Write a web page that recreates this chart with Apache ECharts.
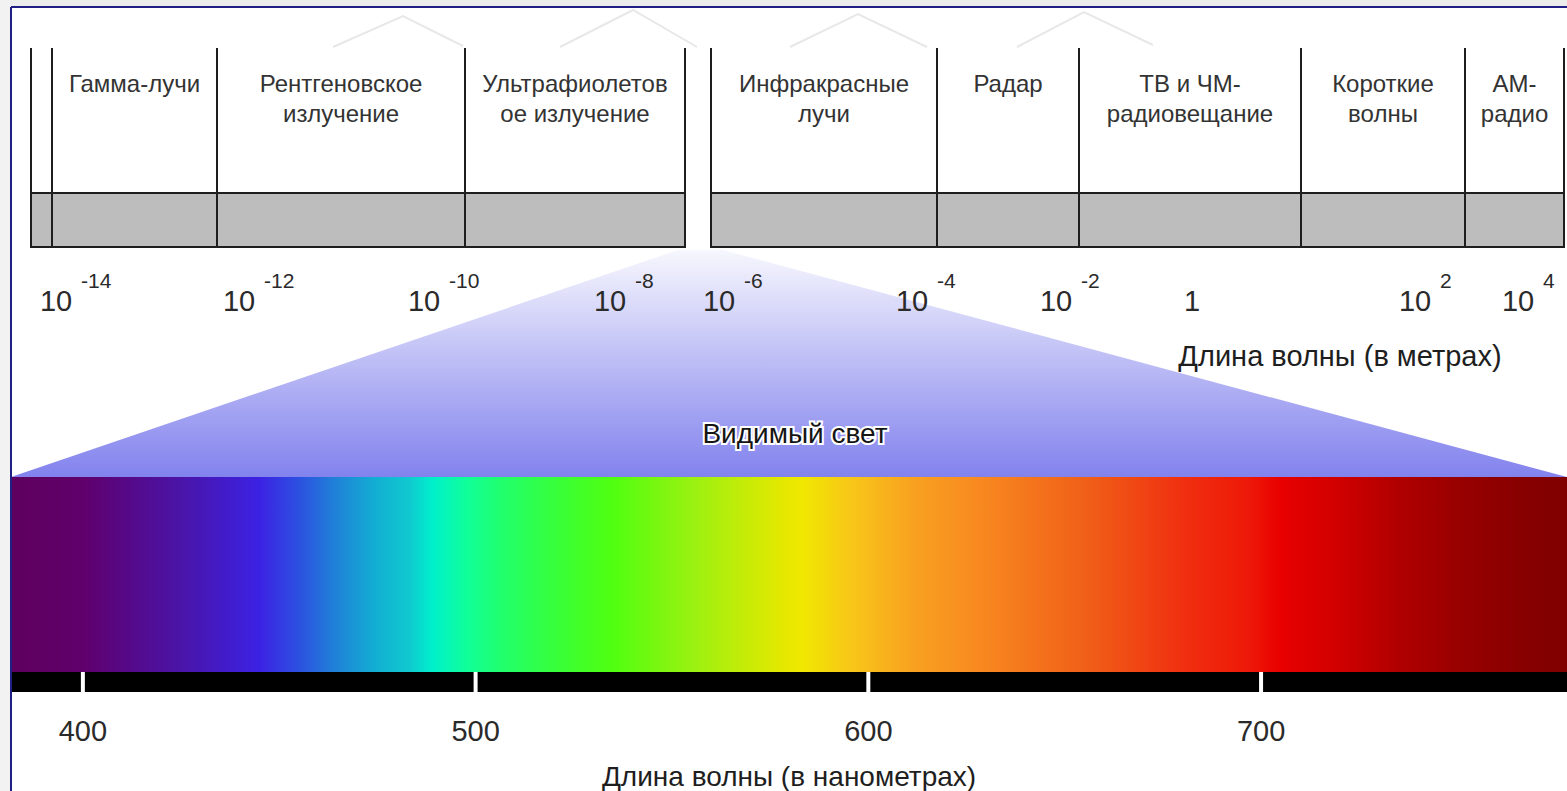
<!DOCTYPE html>
<html>
<head>
<meta charset="utf-8">
<script src="https://cdn.jsdelivr.net/npm/echarts@6/dist/echarts.min.js"></script>
<style>
  html, body { margin: 0; padding: 0; background: #fff; }
  #chart { width: 1567px; height: 791px; }
</style>
</head>
<body>
<div id="chart"></div>
<script>
// top scale: schematic position along the strip (0 = left frame edge)
const bandNames = ['', 'Гамма-лучи', 'Рентгеновское\nизлучение', 'Ультрафиолетов\nое излучение',
  'Инфракрасные\nлучи', 'Радар', 'ТВ и ЧМ-\nрадиовещание', 'Короткие\nволны', 'АМ-\nрадио'];
const bandStart = [20, 41, 206, 454, 700, 926, 1068, 1290, 1454];
const bandEnd = [41, 206, 454, 674, 926, 1068, 1290, 1454, 1553];
const decadeBase = ['10', '10', '10', '10', '10', '10', '10', '1', '10', '10'];
const decadeExp = ['-14', '-12', '-10', '-8', '-6', '-4', '-2', '', '2', '4'];
const decadePos = [45, 228, 413, 599, 708, 901, 1045, 1181, 1404, 1507];
const visibleOnScale = [667, 712];

// visible light, nanometres
const nmRange = [381.7, 777.9];
const nmTicks = [400, 500, 600, 700];
const spectrumNm = [381.7, 400, 425, 445, 455, 464, 475, 483, 489, 498, 506, 521, 535, 557,
  578, 583, 595, 612, 629, 655, 680, 697, 705, 720, 735, 751, 766, 777.9];
const spectrumColor = ['#5e005e', '#60006c', '#4a14a8', '#3c22e4', '#2c50e0', '#2080d8', '#12b0d2',
  '#10c8d0', '#00f0cc', '#10ff98', '#20ff70', '#38ff38', '#50ff10', '#a0f010',
  '#e4e800', '#f0e800', '#f8c818', '#f8a020', '#f88820', '#f06018', '#f03010', '#ee1808',
  '#e80000', '#d00000', '#b00000', '#980000', '#880000', '#800000'];

const FONT = 'Liberation Sans, Arial, sans-serif';
const greyShare = 0.271;

const chart = echarts.init(document.getElementById('chart'), null, { renderer: 'svg' });

const bandData = bandStart.map((s, i) => [s, bandEnd[i], bandNames[i]]);
const decadeData = decadePos.map((p, i) => [p, decadeBase[i], decadeExp[i]]);

function renderBand(params, api) {
  const top = api.coord([api.value(0), 1]);
  const bottom = api.coord([api.value(1), 0]);
  const greyTop = api.coord([api.value(0), greyShare])[1];
  const name = bandData[params.dataIndex][2];
  return {
    type: 'group',
    children: [
      {
        type: 'rect',
        shape: { x: top[0], y: greyTop, width: bottom[0] - top[0], height: bottom[1] - greyTop },
        style: { fill: '#bdbdbd', stroke: '#1e1e1e', lineWidth: 2 }
      },
      {
        type: 'line',
        shape: { x1: top[0], y1: top[1], x2: top[0], y2: bottom[1] },
        style: { stroke: '#1e1e1e', lineWidth: 2 }
      },
      {
        type: 'line',
        shape: { x1: bottom[0], y1: top[1], x2: bottom[0], y2: bottom[1] },
        style: { stroke: '#1e1e1e', lineWidth: 2 }
      },
      {
        type: 'text',
        x: (top[0] + bottom[0]) / 2,
        y: top[1] + 20,
        style: {
          text: name, fill: '#333', fontSize: 24, fontFamily: FONT,
          align: 'center', verticalAlign: 'top', lineHeight: 30
        }
      }
    ]
  };
}

function renderDecade(params, api) {
  const p = api.coord([api.value(0), 0]);
  const d = decadeData[params.dataIndex];
  return {
    type: 'group',
    children: [
      {
        type: 'text', x: p[0], y: p[1] + 54,
        style: { text: d[1], fill: '#2a2a2a', fontSize: 29, fontFamily: FONT, align: 'center', verticalAlign: 'middle' }
      },
      {
        type: 'text', x: p[0] + 25, y: p[1] + 33,
        style: { text: d[2], fill: '#2a2a2a', fontSize: 21, fontFamily: FONT, align: 'left', verticalAlign: 'middle' }
      }
    ]
  };
}

function renderSpectrum(params, api) {
  const a = api.coord([api.value(0), 1]);
  const b = api.coord([api.value(1), 0]);
  const span = nmRange[1] - nmRange[0];
  const stops = spectrumNm.map((nm, i) => ({ offset: (nm - nmRange[0]) / span, color: spectrumColor[i] }));
  return {
    type: 'group',
    children: [
      {
        type: 'rect',
        shape: { x: a[0], y: a[1], width: b[0] - a[0], height: b[1] - a[1] },
        style: { fill: new echarts.graphic.LinearGradient(0, 0, 1, 0, stops) }
      },
      {
        // black scale bar under the spectrum
        type: 'rect',
        shape: { x: a[0], y: b[1], width: b[0] - a[0], height: 20 },
        style: { fill: '#000' }
      }
    ]
  };
}

function renderTick(params, api) {
  const p = api.coord([api.value(0), 0]);
  return {
    type: 'line',
    shape: { x1: p[0], y1: p[1], x2: p[0], y2: p[1] + 20 },
    style: { stroke: '#ffffff', lineWidth: 4 }
  };
}

chart.setOption({
  animation: false,
  backgroundColor: '#ffffff',
  grid: [
    { left: 11, right: 0, top: 48, height: 199, outerBoundsMode: 'none' },
    { left: 11, right: 0, top: 477, height: 195, outerBoundsMode: 'none' }
  ],
  xAxis: [
    { gridIndex: 0, type: 'value', min: 0, max: 1556, show: false },
    {
      gridIndex: 1, type: 'value', min: nmRange[0], max: nmRange[1], offset: 10,
      axisLine: { show: false },
      axisTick: { show: false },
      splitLine: { show: false },
      axisLabel: {
        customValues: nmTicks, margin: 34, color: '#2a2a2a', fontSize: 29, fontFamily: FONT
      },
      name: 'Длина волны (в нанометрах)',
      nameLocation: 'middle', nameGap: 80,
      nameTextStyle: { color: '#1e1e1e', fontSize: 28, fontFamily: FONT }
    }
  ],
  yAxis: [
    { gridIndex: 0, type: 'value', min: 0, max: 1, show: false },
    { gridIndex: 1, type: 'value', min: 0, max: 1, show: false }
  ],
  series: [
    {
      type: 'custom', name: 'bands', xAxisIndex: 0, yAxisIndex: 0,
      data: bandData.map(d => [d[0], d[1]]), renderItem: renderBand, z: 3
    },
    {
      type: 'custom', name: 'decades', xAxisIndex: 0, yAxisIndex: 0,
      data: decadeData.map(d => [d[0]]), renderItem: renderDecade, z: 5
    },
    {
      type: 'custom', name: 'spectrum', xAxisIndex: 1, yAxisIndex: 1,
      data: [[nmRange[0], nmRange[1]]], renderItem: renderSpectrum, z: 3
    },
    {
      type: 'custom', name: 'nmTicks', xAxisIndex: 1, yAxisIndex: 1,
      data: nmTicks.map(v => [v]), renderItem: renderTick, z: 4
    }
  ]
});

// the fan from the visible gap of the top strip down to the spectrum
const gapL = chart.convertToPixel({ gridIndex: 0 }, [visibleOnScale[0], 0]);
const gapR = chart.convertToPixel({ gridIndex: 0 }, [visibleOnScale[1], 0]);
const specR = chart.convertToPixel({ gridIndex: 1 }, [nmRange[1], 1]);
const specL = chart.convertToPixel({ gridIndex: 1 }, [nmRange[0], 1]);

chart.setOption({
  graphic: [
    { type: 'rect', z: 0, shape: { x: 0, y: 0, width: 1567, height: 6 }, style: { fill: '#ececec' } },
    { type: 'rect', z: 0, shape: { x: 0, y: 0, width: 10, height: 791 }, style: { fill: '#f2f2f2' } },
    { type: 'polyline', z: 0, shape: { points: [[333, 47], [403, 16], [463, 46]] }, style: { stroke: '#e8e8e8', lineWidth: 2, fill: null } },
    { type: 'polyline', z: 0, shape: { points: [[560, 47], [633, 10], [697, 47]] }, style: { stroke: '#e8e8e8', lineWidth: 2, fill: null } },
    { type: 'polyline', z: 0, shape: { points: [[790, 47], [858, 14], [927, 47]] }, style: { stroke: '#e8e8e8', lineWidth: 2, fill: null } },
    { type: 'polyline', z: 0, shape: { points: [[1017, 47], [1084, 12], [1153, 45]] }, style: { stroke: '#e8e8e8', lineWidth: 2, fill: null } },
    { type: 'line', z: 10, shape: { x1: 11, y1: 7, x2: 1567, y2: 7 }, style: { stroke: '#1f1f86', lineWidth: 2 } },
    { type: 'line', z: 10, shape: { x1: 11, y1: 7, x2: 11, y2: 791 }, style: { stroke: '#1f1f86', lineWidth: 2 } },
    {
      type: 'polygon', z: 1,
      shape: { points: [[gapL[0], gapL[1] + 3], [gapR[0], gapR[1] + 3], specR, specL] },
      style: {
        fill: new echarts.graphic.LinearGradient(0, 0, 0, 1, [
          { offset: 0, color: '#f7f7fe' },
          { offset: 0.6, color: '#b0b0f4' },
          { offset: 1, color: '#8282ee' }
        ])
      }
    },
    {
      type: 'text', z: 6, x: 795, y: 433,
      style: {
        text: 'Видимый свет', fill: '#151515', fontSize: 28, fontFamily: FONT,
        align: 'center', verticalAlign: 'middle',
        stroke: '#ffffff', lineWidth: 4
      }
    },
    {
      type: 'text', z: 6, x: 1340, y: 356,
      style: {
        text: 'Длина волны (в метрах)', fill: '#1e1e1e', fontSize: 29, fontFamily: FONT,
        align: 'center', verticalAlign: 'middle'
      }
    }
  ]
});
</script>
</body>
</html>
